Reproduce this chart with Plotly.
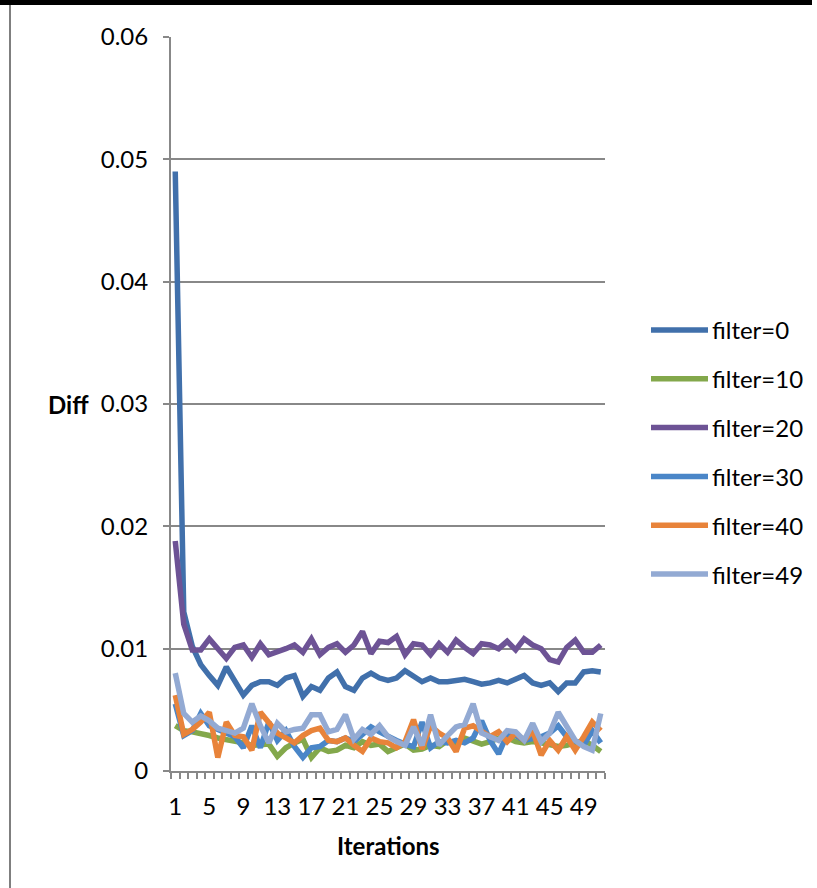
import plotly.graph_objects as go

# Iteration index (x categories)
iterations = list(range(1, 52))
x_tick_vals = list(range(1, 50, 4))
x_tick_text = [str(v) for v in x_tick_vals]

y_tick_vals = [0, 0.01, 0.02, 0.03, 0.04, 0.05, 0.06]
y_tick_text = ["0", "0.01", "0.02", "0.03", "0.04", "0.05", "0.06"]

series_names = ["filter=0", "filter=10", "filter=20", "filter=30", "filter=40", "filter=49"]
series_colors = ["#4170AB", "#83A84B", "#6D5395", "#4A86C8", "#E8833A", "#93AAD3"]

filter_0 = [0.0490, 0.0130, 0.0102, 0.0087, 0.0078, 0.0070, 0.0085, 0.0074, 0.0062, 0.0070,
            0.0073, 0.0073, 0.0070, 0.0076, 0.0078, 0.0061, 0.0069, 0.0066, 0.0076, 0.0081,
            0.0069, 0.0066, 0.0076, 0.0080, 0.0076, 0.0074, 0.0076, 0.0082, 0.0077, 0.0073,
            0.0076, 0.0073, 0.0073, 0.0074, 0.0075, 0.0073, 0.0071, 0.0072, 0.0074, 0.0072,
            0.0075, 0.0078, 0.0072, 0.0070, 0.0072, 0.0065, 0.0072, 0.0072, 0.0081, 0.0082, 0.0081]
filter_10 = [0.0037, 0.0033, 0.0032, 0.0031, 0.0029, 0.0027, 0.0026, 0.0024, 0.0023, 0.0021,
             0.0021, 0.0022, 0.0012, 0.0019, 0.0023, 0.0026, 0.0011, 0.0019, 0.0016, 0.0017,
             0.0021, 0.0019, 0.0024, 0.0021, 0.0022, 0.0016, 0.0019, 0.0022, 0.0017, 0.0018,
             0.0021, 0.0020, 0.0025, 0.0022, 0.0027, 0.0025, 0.0022, 0.0024, 0.0027, 0.0027,
             0.0024, 0.0023, 0.0024, 0.0023, 0.0022, 0.0020, 0.0021, 0.0023, 0.0025, 0.0021, 0.0016]
filter_20 = [0.0188, 0.0120, 0.0099, 0.0099, 0.0108, 0.0100, 0.0092, 0.0101, 0.0103, 0.0093,
             0.0104, 0.0095, 0.0097, 0.0100, 0.0103, 0.0097, 0.0108, 0.0095, 0.0101, 0.0104,
             0.0097, 0.0103, 0.0114, 0.0096, 0.0106, 0.0105, 0.0110, 0.0095, 0.0104, 0.0103,
             0.0095, 0.0104, 0.0097, 0.0107, 0.0101, 0.0096, 0.0104, 0.0103, 0.0100, 0.0106,
             0.0099, 0.0108, 0.0103, 0.0100, 0.0091, 0.0089, 0.0101, 0.0107, 0.0097, 0.0097, 0.0103]
filter_30 = [0.0055, 0.0029, 0.0033, 0.0047, 0.0037, 0.0034, 0.0032, 0.0028, 0.0019, 0.0037,
             0.0019, 0.0040, 0.0025, 0.0033, 0.0020, 0.0011, 0.0019, 0.0020, 0.0025, 0.0024,
             0.0027, 0.0024, 0.0030, 0.0036, 0.0032, 0.0028, 0.0025, 0.0022, 0.0020, 0.0040,
             0.0019, 0.0024, 0.0023, 0.0025, 0.0023, 0.0027, 0.0041, 0.0025, 0.0014, 0.0030,
             0.0029, 0.0025, 0.0026, 0.0028, 0.0031, 0.0037, 0.0028, 0.0024, 0.0021, 0.0033, 0.0023]
filter_40 = [0.0062, 0.0030, 0.0034, 0.0040, 0.0048, 0.0011, 0.0040, 0.0029, 0.0028, 0.0017,
             0.0048, 0.0039, 0.0031, 0.0027, 0.0023, 0.0029, 0.0033, 0.0035, 0.0025, 0.0024,
             0.0027, 0.0021, 0.0016, 0.0027, 0.0024, 0.0023, 0.0019, 0.0024, 0.0042, 0.0018,
             0.0037, 0.0031, 0.0027, 0.0016, 0.0035, 0.0037, 0.0032, 0.0028, 0.0032, 0.0024,
             0.0031, 0.0025, 0.0033, 0.0013, 0.0025, 0.0017, 0.0028, 0.0017, 0.0028, 0.0040, 0.0033]
filter_49 = [0.0080, 0.0047, 0.0040, 0.0045, 0.0041, 0.0035, 0.0033, 0.0031, 0.0035, 0.0055,
             0.0037, 0.0023, 0.0039, 0.0032, 0.0034, 0.0035, 0.0046, 0.0046, 0.0032, 0.0034,
             0.0046, 0.0026, 0.0034, 0.0030, 0.0037, 0.0028, 0.0024, 0.0021, 0.0036, 0.0021,
             0.0046, 0.0021, 0.0029, 0.0036, 0.0038, 0.0055, 0.0031, 0.0028, 0.0025, 0.0033,
             0.0032, 0.0025, 0.0039, 0.0024, 0.0031, 0.0048, 0.0036, 0.0025, 0.0020, 0.0017, 0.0047]

series_values = [filter_0, filter_10, filter_20, filter_30, filter_40, filter_49]

FONT = "Lato, 'Open Sans', sans-serif"
GRID = "#888888"

# Figure geometry (pixels) used to place decorations in paper coordinates
W, H = 817, 888
L, R, T, B = 171, 212, 37, 117
PW, PH = W - L - R, H - T - B


def px_x(x):
    return (x - L) / PW


def px_y(y):
    return (H - B - y) / PH


fig = go.Figure()
for name, vals, col in zip(series_names, series_values, series_colors):
    fig.add_trace(go.Scatter(x=iterations, y=vals, mode="lines", name=name,
                             line=dict(color=col, width=5.5), showlegend=False))

shapes = [
    # frame: thick top rule and thin left rule
    dict(type="rect", xref="paper", yref="paper", x0=px_x(0), x1=px_x(812),
         y0=px_y(5), y1=px_y(0), fillcolor="black", line=dict(width=0)),
    dict(type="line", xref="paper", yref="paper", x0=px_x(10), x1=px_x(10),
         y0=px_y(5), y1=px_y(H), line=dict(color="#7F7F7F", width=2)),
]
annotations = [
    dict(text="<b>Diff</b>", xref="paper", yref="paper", x=px_x(68), y=px_y(404),
         xanchor="center", yanchor="middle", showarrow=False,
         font=dict(family=FONT, size=24, color="black")),
    dict(text="<b>Iterations</b>", xref="paper", yref="paper", x=0.5, y=px_y(846),
         xanchor="center", yanchor="middle", showarrow=False,
         font=dict(family=FONT, size=24, color="black")),
]

# legend drawn as line samples with labels
leg_top, leg_step = 330, 48.8
for k, (name, col) in enumerate(zip(series_names, series_colors)):
    yy = px_y(leg_top + k * leg_step)
    shapes.append(dict(type="line", xref="paper", yref="paper", x0=px_x(651), x1=px_x(708),
                       y0=yy, y1=yy, line=dict(color=col, width=5.5)))
    annotations.append(dict(text=name, xref="paper", yref="paper", x=px_x(710), y=yy,
                            xanchor="left", yanchor="middle", showarrow=False,
                            font=dict(family=FONT, size=24, color="black")))

fig.update_layout(
    width=W, height=H,
    margin=dict(l=L, r=R, t=T, b=B),
    paper_bgcolor="white", plot_bgcolor="white",
    font=dict(family=FONT, size=24, color="black"),
    shapes=shapes, annotations=annotations,
    showlegend=False,
    xaxis=dict(type="linear", range=[0.5, 51.5], tickvals=x_tick_vals, ticktext=x_tick_text,
               ticks="", showgrid=False, zeroline=False, showline=True,
               linecolor=GRID, linewidth=2, ticklabelstandoff=13,
               minor=dict(ticks="outside", tick0=0.5, dtick=1, ticklen=6,
                          tickcolor=GRID, tickwidth=1.5, showgrid=False),
               tickfont=dict(family=FONT, size=24, color="black")),
    yaxis=dict(range=[0, 0.06], tickvals=y_tick_vals, ticktext=y_tick_text,
               ticks="outside", ticklen=6, tickcolor=GRID, tickwidth=1.5,
               showgrid=True, gridcolor=GRID, gridwidth=1.5, zeroline=False,
               showline=True, linecolor=GRID, linewidth=2, ticklabelstandoff=10,
               tickfont=dict(family=FONT, size=24, color="black")),
)

fig.write_html("out.html")
